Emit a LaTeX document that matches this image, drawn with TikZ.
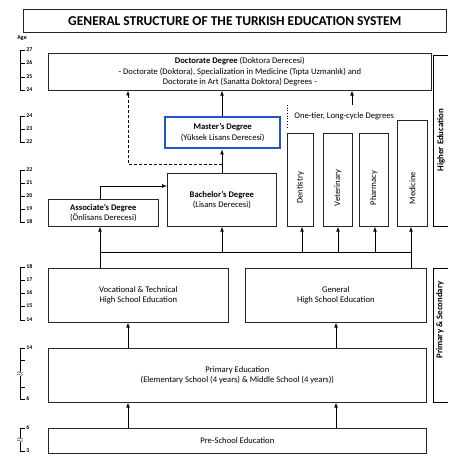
\documentclass[tikz,border=0pt]{standalone}
\usepackage{fontspec}
\setmainfont{Carlito}
\usepackage{xcolor}
\usepackage{tikz}
\usetikzlibrary{calc}

\definecolor{mastblue}{RGB}{35,85,200}

\tikzset{
	box/.style={draw=black!85,line width=0.7pt,inner sep=0pt,align=center,anchor=north west,
		font=\fontsize{8.6}{10.5}\selectfont},
	vbox/.style={draw=black!85,line width=0.7pt,inner sep=0pt,anchor=north west},
	vlabel/.style={rotate=90,font=\fontsize{8.6}{10}\selectfont},
	age/.style={anchor=west,inner sep=1pt,font=\bfseries\fontsize{5.8}{6}\selectfont},
	side/.style={rotate=90,font=\bfseries\fontsize{8.8}{10}\selectfont},
	brk/.style={fill=white,inner sep=0pt,font=\bfseries\fontsize{9}{9}\selectfont},
}

\begin{document}
\begin{tikzpicture}[x=1pt,y=-1pt,>=latex,line width=0.7pt]
	\useasboundingbox (0,0) rectangle (448,457);
	\clip (0,0) rectangle (448,457);
	
	\node[box,minimum width=423,minimum height=23,font=\bfseries\fontsize{13.5}{15}\selectfont] (title) at (23,9) {GENERAL STRUCTURE OF THE TURKISH EDUCATION SYSTEM};
	\node[age,font=\bfseries\fontsize{6}{7}\selectfont] (agehead) at (16,38) {Age};
	
	% higher education
	\node[box,minimum width=383,minimum height=37] (doc) at (48,53) {\textbf{Doctorate Degree} (Doktora Derecesi)\\- Doctorate (Doktora), Specialization in Medicine (Tıpta Uzmanlık) and\\Doctorate in Art (Sanatta Doktora) Degrees -};
	\node[box,draw=mastblue,line width=2.4pt,minimum width=115,minimum height=31] (mast) at (164,116) {\textbf{Master's Degree}\\(Yüksek Lisans Derecesi)};
	\node[box,minimum width=109,minimum height=53] (bach) at (167,173) {\textbf{Bachelor's Degree}\\(Lisans Derecesi)};
	\node[box,minimum width=110,minimum height=27] (asso) at (48,199) {\textbf{Associate's Degree}\\(Önlisans Derecesi)};
	
	\node[anchor=north west,minimum height=22,inner xsep=7pt,inner ysep=0pt,font=\fontsize{8.6}{10}\selectfont] (onetier) at (287,105) {One-tier, Long-cycle Degrees};
	\draw[dotted] (onetier.north west) -- (onetier.south west);
	
	\node[vbox,minimum width=26,minimum height=93] (dent) at (287,133) {};
	\node[vbox,minimum width=29,minimum height=93] (vet) at (323,133) {};
	\node[vbox,minimum width=29,minimum height=93] (phar) at (359,133) {};
	\node[vbox,minimum width=30,minimum height=106] (med) at (397,120) {};
	\coordinate (ylab) at (0,188);
	\foreach \n/\t in {dent/Dentistry,vet/Veterinary,phar/Pharmacy,med/Medicine}
		\node[vlabel] at (\n |- ylab) {\t};
	
	% primary and secondary
	\node[box,minimum width=180,minimum height=54] (voc) at (48,268) {Vocational \& Technical\\High School Education};
	\node[box,minimum width=181,minimum height=54] (gen) at (245,268) {General\\High School Education};
	\node[box,minimum width=378,minimum height=54] (prim) at (48,348) {Primary Education\\(Elementary School (4 years) \& Middle School (4 years))};
	\node[box,minimum width=378,minimum height=25] (pre) at (48,428) {Pre-School Education};
	
	% connectors
	\coordinate (xl) at (128,0);
	\coordinate (xr) at (336,0);
	\coordinate (xa) at (100,0);
	\coordinate (xb) at (222,0);
	\coordinate (xd) at (302,0);
	\coordinate (xv) at (338,0);
	\coordinate (xp) at (375,0);
	\coordinate (xm) at (411,0);
	\coordinate (xo) at (352,0);
	\coordinate (ya) at (0,186);
	\coordinate (yh) at (0,252);
	\coordinate (yk) at (0,164);
	
	\foreach \c in {xl,xr}{
		\draw[->] (pre.north -| \c) -- (prim.south -| \c);
	}
	\draw[->] (prim.north -| xl) -- (voc.south -| xl);
	\draw[->] (prim.north -| xr) -- (gen.south -| xr);
	
	\draw (voc.north -| xa) -- (xa |- yh) -- (xm |- yh) -- (gen.north -| xm);
	\foreach \c/\n in {xa/asso,xb/bach,xd/dent,xv/vet,xp/phar,xm/med}{
		\draw[->] (\c |- yh) -- (\n.south -| \c);
	}
	\draw[->] (asso.north -| xa) -- (xa |- ya) -- (bach.west |- ya);
	\draw[->] (bach.north -| xb) -- (mast.south -| xb);
	\draw[->] (mast.north -| xb) -- (doc.south -| xb);
	\draw[->,densely dashed,line width=0.6pt] (xb |- yk) -- (xl |- yk) -- (doc.south -| xl);
	\draw[->] (onetier.north -| xo) -- (doc.south -| xo);
	
	% side brackets
	\draw (448,55) -- (433,55) -- (433,226) -- (448,226);
	\node[side] at (441,140) {Higher Education};
	\draw (448,268) -- (433,268) -- (433,402) -- (448,402);
	\node[side] at (440,320) {Primary \& Secondary};
	
	% age scales
	\foreach \t/\b in {50/90,116/142,170/222,267/320,348/399,428/451}{
		\draw (20,\t) -- (20,\b);
	}
	\foreach \y/\a in {50/27,63/26,77/25,90/24,116/24,129/23,142/22,170/22,183/21,196/20,209/19,222/18,267/18,280/17,293/16,306/15,320/14,348/14,360/,387/,399/6,428/6,451/3}{
		\draw (20,\y) -- (25,\y);
		\node[age] at (25,\y) {\a};
	}
	\node[brk] at (20,374) {$\approx$};
	\node[brk] at (20,440) {$\approx$};
\end{tikzpicture}
\end{document}
